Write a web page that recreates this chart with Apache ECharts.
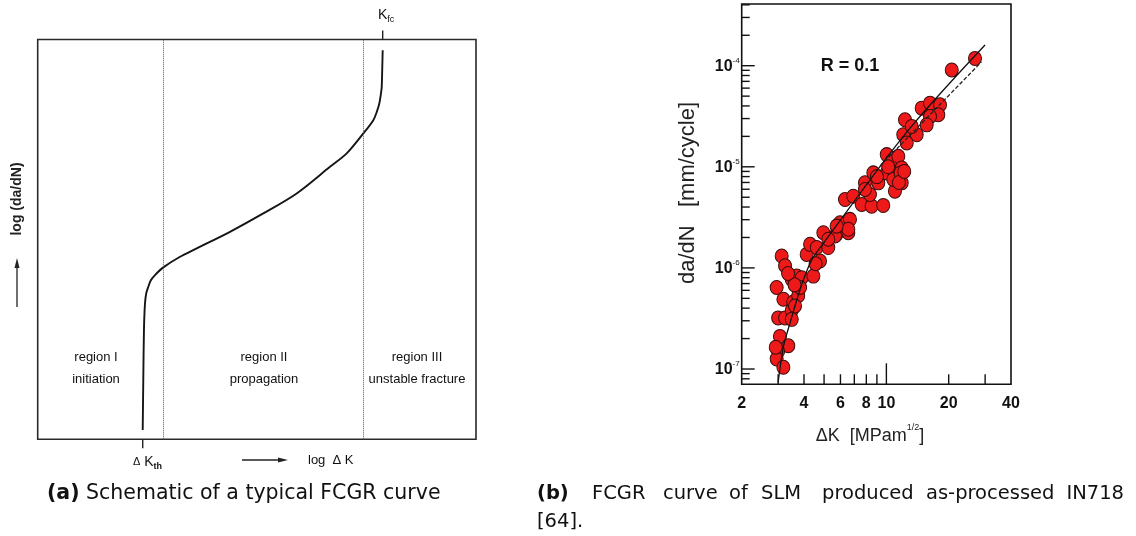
<!DOCTYPE html>
<html>
<head>
<meta charset="utf-8">
<script src="https://cdn.jsdelivr.net/npm/echarts@6/dist/echarts.min.js"></script>
<style>
html,body{margin:0;padding:0;background:#fff;}
#chart{width:1136px;height:536px;}
</style>
</head>
<body>
<div id="chart"></div>
<script>
// ---------- Panel (a): schematic FCGR curve (arbitrary log units 0..100) ----------
const schematicLogDK   = [23.96, 24.09, 24.25, 24.48, 24.78, 25.23, 25.85, 26.76, 28.66, 32.47, 36.28, 43.87, 51.47, 59.09, 66.69, 70.5, 74.29, 76.57, 77.42, 77.94, 78.33, 78.49, 78.6, 78.71];
const schematicLogRate = [2.33, 14.83, 27.75, 34.0, 36.58, 38.15, 39.83, 41.08, 43.0, 45.65, 47.75, 51.9, 56.5, 61.5, 68.15, 71.5, 76.5, 79.83, 82.08, 84.0, 86.58, 88.15, 92.3, 97.33];
const regionBounds = [28.66, 74.29];          // dotted region boundaries
const schematicTicks = [23.96, 78.71];        // ΔKth (bottom), Kfc (top)

// ---------- Panel (b): measured FCGR of SLM IN718 ----------
const deltaK = [3.12, 3.24, 2.95, 3.18, 3.00, 3.24, 3.06, 3.36, 3.00, 2.95, 3.18, 3.49, 3.55, 3.75, 3.49, 3.69, 3.90, 3.83, 4.44, 4.78,
  4.12, 4.28, 4.61, 5.24, 4.96, 5.75, 6.55, 5.65, 5.97, 6.31, 6.67, 6.55, 6.92, 7.60, 8.49, 9.66, 8.33, 7.88, 8.65, 9.14,
  10.04, 10.04, 10.61, 11.42, 11.86, 11.21, 11.86, 11.00, 12.07, 14.01, 12.54, 20.69, 26.8, 14.81, 16.25, 18.16, 17.82, 16.25, 15.66, 12.30,
  13.26, 2.92, 5.75, 5.24, 7.88, 10.2, 10.8, 11.7, 4.55, 3.62, 3.49, 3.60, 3.35, 9.0, 11.5, 12.2];
const crackRate = [1.31e-6, 1.05e-6, 6.4e-7, 4.9e-7, 3.2e-7, 3.2e-7, 2.1e-7, 1.7e-7, 1.5e-7, 1.26e-7, 1.04e-7, 3.8e-7, 4.6e-7, 5.3e-7, 7.7e-7, 8.3e-7, 8.0e-7, 6.4e-7, 8.3e-7, 1.17e-6,
  1.36e-6, 1.71e-6, 1.59e-6, 1.59e-6, 2.23e-6, 2.15e-6, 2.23e-6, 2.07e-6, 2.80e-6, 4.75e-6, 3.02e-6, 2.41e-6, 5.12e-6, 4.24e-6, 4.08e-6, 4.15e-6, 5.32e-6, 6.94e-6, 8.71e-6, 6.94e-6,
  8.71e-6, 1.32e-5, 1.13e-5, 1.27e-5, 9.75e-6, 8.06e-6, 6.94e-6, 5.74e-6, 2.08e-5, 2.08e-5, 1.72e-5, 9.07e-5, 1.18e-4, 3.80e-5, 4.26e-5, 4.10e-5, 3.27e-5, 3.14e-5, 2.60e-5, 2.92e-5,
  2.51e-5, 1.64e-7, 2.59e-6, 1.92e-6, 5.96e-6, 1.0e-5, 7.5e-6, 8.7e-6, 1.1e-6, 4.2e-7, 3.1e-7, 6.8e-7, 8.8e-7, 8.0e-6, 7.0e-6, 9.0e-6];
const fitDK   = [3.00, 3.18, 3.42, 3.69, 3.97, 4.36, 4.96, 12.54, 29.96];
const fitRate = [7.4e-8, 1.66e-7, 2.83e-7, 4.81e-7, 7.59e-7, 1.20e-6, 1.75e-6, 2.2e-5, 1.60e-4];
const parisDK   = [9.32, 28.8];
const parisRate = [1.02e-5, 1.09e-4];

const X_MIN = 2, X_MAX = 40;
const Y_MIN = 7.06e-8, Y_MAX = 4.076e-4;
const xMinorTicks = [3, 4, 5, 6, 7, 8, 9, 20, 30];
const xMajorTicks = [10];
const xTickLabels = [2, 4, 6, 8, 10, 20, 40];
const yMajorTicks = [1e-7, 1e-6, 1e-5, 1e-4];
const yMinorTicks = [8e-8, 9e-8, 2e-7, 3e-7, 4e-7, 5e-7, 6e-7, 7e-7, 8e-7, 9e-7, 2e-6, 3e-6, 4e-6, 5e-6, 6e-6, 7e-6, 8e-6, 9e-6,
  2e-5, 3e-5, 4e-5, 5e-5, 6e-5, 7e-5, 8e-5, 9e-5, 2e-4, 3e-4, 4e-4];
const yTickExponents = [-7, -6, -5, -4];

const NARROW = "'Liberation Sans Narrow','Liberation Sans',Arial,sans-serif";
const SANS = "'Liberation Sans',Arial,sans-serif";
const CAP = "'DejaVu Sans',sans-serif";
const CAPSIZE = '19.5px ';

const chart = echarts.init(document.getElementById('chart'), null, {renderer: 'canvas'});

function tickSeries(data, len, dir) {
  return {
    type: 'custom', coordinateSystem: 'cartesian2d', xAxisIndex: 1, yAxisIndex: 1, z: 5,
    data: data,
    renderItem: function (params, api) {
      const p = api.coord([api.value(0), api.value(1)]);
      const shape = dir === 'up'
        ? {x1: p[0], y1: p[1], x2: p[0], y2: p[1] - len}
        : {x1: p[0], y1: p[1], x2: p[0] + len, y2: p[1]};
      return {type: 'line', shape: shape, style: {stroke: '#111', lineWidth: 1.4}};
    }
  };
}

function capWord(x, text, bold, align) {
  return {type: 'text', x: x, y: 494,
    style: {text: text, font: (bold ? 'bold ' : '') + CAPSIZE + CAP, fill: '#111', align: align || 'left', verticalAlign: 'middle'}};
}

const option = {
  backgroundColor: '#fff',
  animation: false,
  grid: [
    {left: 37.7, top: 39.5, width: 438.3, height: 399.8, show: true, borderColor: '#2a2a2a', borderWidth: 1.6, backgroundColor: 'transparent'},
    {left: 741.7, top: 4, width: 269.3, height: 380.3, show: true, borderColor: '#111', borderWidth: 1.6, backgroundColor: 'transparent'}
  ],
  xAxis: [
    {gridIndex: 0, type: 'value', min: 0, max: 100, show: false},
    {gridIndex: 1, type: 'log', logBase: 10, min: X_MIN, max: X_MAX, show: false}
  ],
  yAxis: [
    {gridIndex: 0, type: 'value', min: 0, max: 100, show: false},
    {gridIndex: 1, type: 'log', logBase: 10, min: Y_MIN, max: Y_MAX, show: false}
  ],
  series: [
    {
      type: 'line', xAxisIndex: 0, yAxisIndex: 0,
      data: schematicLogDK.map((v, i) => [v, schematicLogRate[i]]),
      symbol: 'none', smooth: 0.3,
      lineStyle: {color: '#151515', width: 1.9},
      markLine: {
        silent: true, symbol: ['none', 'none'], label: {show: false},
        lineStyle: {type: 'dotted', color: '#555', width: 1},
        data: regionBounds.map(v => ({xAxis: v}))
      }
    },
    {
      type: 'custom', coordinateSystem: 'cartesian2d', xAxisIndex: 0, yAxisIndex: 0,
      data: [[schematicTicks[0], 0], [schematicTicks[1], 100]],
      renderItem: function (params, api) {
        const p = api.coord([api.value(0), api.value(1)]);
        const d = params.dataIndex === 0 ? 9 : -9;
        return {type: 'line', shape: {x1: p[0], y1: p[1], x2: p[0], y2: p[1] + d}, style: {stroke: '#222', lineWidth: 1.4}};
      }
    },
    {
      type: 'scatter', xAxisIndex: 1, yAxisIndex: 1, z: 3,
      data: deltaK.map((v, i) => [v, crackRate[i]]),
      symbol: 'circle', symbolSize: [13, 14],
      itemStyle: {color: '#ee1a1a', borderColor: '#3a0c0c', borderWidth: 1, opacity: 1}
    },
    {
      type: 'line', xAxisIndex: 1, yAxisIndex: 1, z: 4,
      data: fitDK.map((v, i) => [v, fitRate[i]]),
      symbol: 'none', smooth: 0.3,
      lineStyle: {color: '#111', width: 1.3}
    },
    {
      type: 'line', xAxisIndex: 1, yAxisIndex: 1, z: 4,
      data: parisDK.map((v, i) => [v, parisRate[i]]),
      symbol: 'none',
      lineStyle: {color: '#222', width: 1.3, type: [4, 2]}
    },
    tickSeries(xMinorTicks.map(v => [v, Y_MIN]), 10, 'up'),
    tickSeries(xMajorTicks.map(v => [v, Y_MIN]), 21, 'up'),
    tickSeries(yMajorTicks.map(v => [X_MIN, v]), 13, 'right'),
    tickSeries(yMinorTicks.map(v => [X_MIN, v]), 8, 'right'),
    {
      type: 'custom', coordinateSystem: 'cartesian2d', xAxisIndex: 1, yAxisIndex: 1, z: 5,
      data: xTickLabels.map(v => [v, Y_MIN]),
      renderItem: function (params, api) {
        const p = api.coord([api.value(0), api.value(1)]);
        return {type: 'text', x: p[0], y: p[1] + 19,
          style: {text: String(api.value(0)), fill: '#111', font: 'bold 16px ' + NARROW, align: 'center', verticalAlign: 'middle'}};
      }
    },
    {
      type: 'custom', coordinateSystem: 'cartesian2d', xAxisIndex: 1, yAxisIndex: 1, z: 5,
      data: yMajorTicks.map((v, i) => [X_MIN, v, yTickExponents[i]]),
      renderItem: function (params, api) {
        const p = api.coord([api.value(0), api.value(1)]);
        return {type: 'text', x: p[0] - 2, y: p[1],
          style: {text: '{m|10}{e|' + api.value(2) + '}', align: 'right', verticalAlign: 'middle',
            rich: {
              m: {font: 'bold 16px ' + NARROW, fill: '#111', lineHeight: 18, verticalAlign: 'bottom'},
              e: {font: '8px ' + NARROW, fill: '#111', lineHeight: 18, verticalAlign: 'top'}
            }}};
      }
    }
  ],
  graphic: [
    // panel (a) annotations
    {type: 'text', x: 17, y: 199, rotation: Math.PI / 2,
      style: {text: 'log (da/dN)', font: 'bold 14px ' + SANS, fill: '#222', align: 'center', verticalAlign: 'middle'}},
    {type: 'line', shape: {x1: 17, y1: 307, x2: 17, y2: 266}, style: {stroke: '#222', lineWidth: 1.3}},
    {type: 'polygon', shape: {points: [[17, 258], [14.5, 268], [19.5, 268]]}, style: {fill: '#222'}},
    {type: 'line', shape: {x1: 242, y1: 460, x2: 280, y2: 460}, style: {stroke: '#222', lineWidth: 1.3}},
    {type: 'polygon', shape: {points: [[288, 460], [278, 457.5], [278, 462.5]]}, style: {fill: '#222'}},
    {type: 'text', x: 308, y: 460,
      style: {text: 'log  \u0394 K', font: '13px ' + SANS, fill: '#111', align: 'left', verticalAlign: 'middle'}},
    {type: 'text', x: 133, y: 462,
      style: {text: '{d|\u0394}{k| K}{s|th}', align: 'left', verticalAlign: 'middle',
        rich: {d: {font: '11px ' + SANS, fill: '#111', lineHeight: 18, verticalAlign: 'middle'},
               k: {font: '14px ' + SANS, fill: '#111', lineHeight: 18, verticalAlign: 'middle'},
               s: {font: 'bold 9px ' + SANS, fill: '#111', lineHeight: 18, verticalAlign: 'bottom'}}}},
    {type: 'text', x: 378, y: 15,
      style: {text: '{k|K}{s|fc}', align: 'left', verticalAlign: 'middle',
        rich: {k: {font: '14px ' + SANS, fill: '#111', lineHeight: 18, verticalAlign: 'middle'},
               s: {font: '9px ' + SANS, fill: '#111', lineHeight: 18, verticalAlign: 'bottom'}}}},
    {type: 'text', x: 96, y: 368,
      style: {text: 'region I\ninitiation', font: '13px ' + SANS, fill: '#111', align: 'center', verticalAlign: 'middle', lineHeight: 22}},
    {type: 'text', x: 264, y: 368,
      style: {text: 'region II\npropagation', font: '13px ' + SANS, fill: '#111', align: 'center', verticalAlign: 'middle', lineHeight: 22}},
    {type: 'text', x: 417, y: 368,
      style: {text: 'region III\nunstable fracture', font: '13px ' + SANS, fill: '#111', align: 'center', verticalAlign: 'middle', lineHeight: 22}},
    // panel (b) annotations
    {type: 'text', x: 850, y: 66,
      style: {text: 'R = 0.1', font: 'bold 18px ' + NARROW, fill: '#111', align: 'center', verticalAlign: 'middle'}},
    {type: 'text', x: 688, y: 193, rotation: Math.PI / 2,
      style: {text: 'da/dN   [mm/cycle]', font: '22px ' + NARROW, fill: '#222', align: 'center', verticalAlign: 'middle'}},
    {type: 'text', x: 870, y: 434,
      style: {text: '{n|\u0394K  [MPam}{s|1/2}{n|]}', align: 'center', verticalAlign: 'middle',
        rich: {n: {font: '18px ' + NARROW, fill: '#222', lineHeight: 22, verticalAlign: 'bottom'},
               s: {font: '9px ' + NARROW, fill: '#222', lineHeight: 22, verticalAlign: 'top'}}}},
    // captions
    {type: 'text', x: 47, y: 494,
      style: {text: '{b|(a)} Schematic of a typical FCGR curve', align: 'left', verticalAlign: 'middle',
        font: '20.5px ' + CAP, fill: '#111',
        rich: {b: {font: 'bold 20.5px ' + CAP, fill: '#111'}}}},
    capWord(537, '(b)', true),
    capWord(592, 'FCGR'),
    capWord(663, 'curve'),
    capWord(729, 'of'),
    capWord(761, 'SLM'),
    capWord(822, 'produced'),
    capWord(926, 'as-processed'),
    capWord(1124, 'IN718', false, 'right'),
    {type: 'text', x: 537, y: 522, style: {text: '[64].', font: CAPSIZE + CAP, fill: '#111', align: 'left', verticalAlign: 'middle'}}
  ]
};
chart.setOption(option);
</script>
</body>
</html>
